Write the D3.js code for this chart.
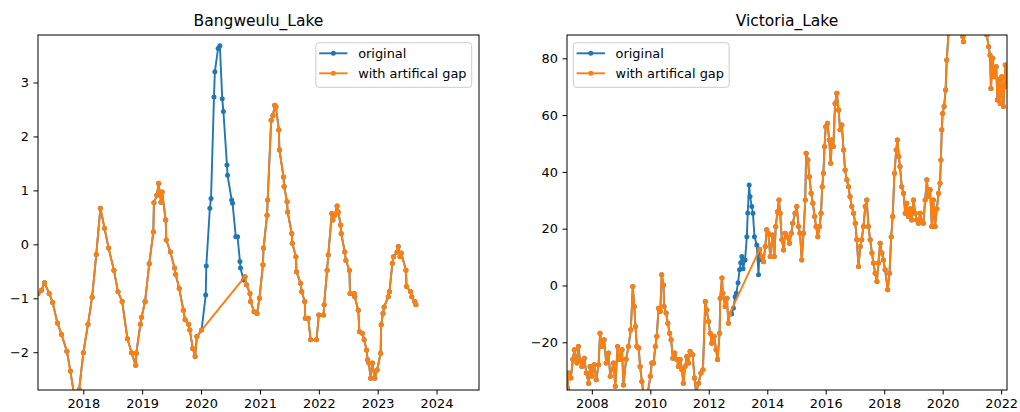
<!DOCTYPE html>
<html>
<head>
<meta charset="utf-8">
<script src="https://cdn.jsdelivr.net/npm/d3@7"></script>
<style>
  body { margin: 0; background: #fff; }
  svg { display: block; }
  text { font-family: "DejaVu Sans", sans-serif; fill: #000; }
</style>
</head>
<body>
<svg id="chart" width="1020" height="412"></svg>
<script>
// ---- data (decimal years, level anomaly) ----
const bangYears = [
  2017.23, 2017.29, 2017.34, 2017.42, 2017.48, 2017.56, 2017.63, 2017.72, 2017.78, 2017.86,
  2017.93, 2018.00, 2018.08, 2018.15, 2018.22, 2018.29, 2018.36, 2018.43, 2018.52, 2018.59,
  2018.66, 2018.75, 2018.82, 2018.89, 2018.90, 2018.97, 2018.99, 2019.05, 2019.12, 2019.19,
  2019.20, 2019.25, 2019.28, 2019.30, 2019.32, 2019.34, 2019.40, 2019.41, 2019.48, 2019.55,
  2019.57, 2019.63, 2019.70, 2019.73, 2019.79, 2019.81, 2019.86, 2019.90, 2019.93, 2020.01,
  2020.08, 2020.09, 2020.15, 2020.17, 2020.22, 2020.235, 2020.29, 2020.32, 2020.36, 2020.38,
  2020.44, 2020.45, 2020.52, 2020.535, 2020.59, 2020.62, 2020.66, 2020.67, 2020.72, 2020.745,
  2020.77, 2020.83, 2020.84, 2020.90, 2020.95, 2020.99, 2021.05, 2021.06, 2021.12, 2021.13,
  2021.19, 2021.22, 2021.25, 2021.27, 2021.32, 2021.33, 2021.40, 2021.41, 2021.46, 2021.47,
  2021.54, 2021.55, 2021.61, 2021.62, 2021.69, 2021.71, 2021.76, 2021.77, 2021.82, 2021.86,
  2021.96, 2022.00, 2022.08, 2022.09, 2022.14, 2022.16, 2022.22, 2022.24, 2022.27, 2022.31,
  2022.33, 2022.37, 2022.38, 2022.44, 2022.46, 2022.52, 2022.53, 2022.60, 2022.61, 2022.67,
  2022.69, 2022.74, 2022.77, 2022.81, 2022.83, 2022.85, 2022.88, 2022.91, 2022.95, 2022.99,
  2023.05, 2023.06, 2023.09, 2023.11, 2023.18, 2023.20, 2023.25, 2023.27, 2023.33, 2023.35,
  2023.38, 2023.40, 2023.48, 2023.49, 2023.56, 2023.58, 2023.63, 2023.65
];
const bangValues = [
  -0.91, -0.85, -0.71, -0.91, -1.08, -1.46, -1.67, -1.98, -2.35, -2.90,
  -2.69, -2.01, -1.48, -0.98, -0.19, 0.67, 0.30, -0.07, -0.48, -0.88,
  -1.06, -1.75, -2.01, -2.24, -2.02, -1.48, -1.35, -1.06, -0.36, 0.23,
  0.77, 0.91, 1.13, 0.95, 0.78, 0.97, 0.45, 0.08, -0.14, -0.44,
  -0.56, -0.82, -1.22, -1.40, -1.48, -1.59, -1.93, -2.08, -1.71, -1.59,
  -0.94, -0.40, 0.67, 0.85, 2.73, 3.20, 3.63, 3.68, 2.70, 2.46,
  1.47, 1.28, 0.82, 0.76, 0.14, 0.14, -0.32, -0.44, -0.66, -0.60,
  -0.75, -0.91, -1.06, -1.25, -1.28, -1.00, -0.38, -0.07, 0.54, 0.82,
  2.30, 2.39, 2.58, 2.55, 2.12, 1.75, 1.25, 1.07, 0.79, 0.60,
  0.20, 0.02, -0.23, -0.51, -0.72, -0.88, -1.06, -1.37, -1.37, -1.77,
  -1.77, -1.31, -1.31, -1.12, -0.48, -0.20, 0.57, 0.45, 0.54, 0.71,
  0.60, 0.36, 0.20, -0.14, -0.30, -0.48, -0.91, -0.91, -0.97, -1.22,
  -1.62, -1.65, -1.77, -1.96, -2.14, -2.20, -2.48, -2.20, -2.48, -2.33,
  -2.02, -1.49, -1.28, -1.16, -0.97, -0.88, -0.35, -0.23, -0.14, -0.04,
  -0.23, -0.16, -0.48, -0.78, -0.88, -0.97, -1.06, -1.12
];
const bangGap = [2020.03, 2020.73];
const bangXTicks = [2018, 2019, 2020, 2021, 2022, 2023, 2024];
const bangYTicks = [-2, -1, 0, 1, 2, 3];

const victYears = [
  2007.17, 2007.20, 2007.28, 2007.35, 2007.40, 2007.49, 2007.54, 2007.60, 2007.66, 2007.74,
  2007.81, 2007.89, 2007.94, 2008.00, 2008.08, 2008.15, 2008.23, 2008.28, 2008.34, 2008.42,
  2008.49, 2008.57, 2008.63, 2008.74, 2008.80, 2008.88, 2008.95, 2009.03, 2009.08, 2009.17,
  2009.25, 2009.33, 2009.40, 2009.45, 2009.49, 2009.54, 2009.60, 2009.65, 2009.71, 2009.77,
  2009.88, 2010.00, 2010.05, 2010.11, 2010.17, 2010.22, 2010.28, 2010.34, 2010.39, 2010.45,
  2010.47, 2010.54, 2010.60, 2010.66, 2010.71, 2010.77, 2010.83, 2010.91, 2010.96, 2011.02,
  2011.08, 2011.13, 2011.19, 2011.25, 2011.31, 2011.36, 2011.45, 2011.51, 2011.57, 2011.65,
  2011.73, 2011.80, 2011.88, 2011.93, 2011.99, 2012.05, 2012.10, 2012.18, 2012.25, 2012.30,
  2012.37, 2012.39, 2012.45, 2012.48, 2012.56, 2012.62, 2012.67, 2012.71,
  2012.78, 2012.84, 2012.90, 2012.94, 2013.00, 2013.05, 2013.09, 2013.13, 2013.17, 2013.24,
  2013.30, 2013.33, 2013.38, 2013.41, 2013.47, 2013.51, 2013.56, 2013.64, 2013.70, 2013.72,
  2013.74, 2013.81, 2013.87, 2013.93, 2013.98, 2014.04, 2014.10, 2014.18, 2014.24, 2014.29,
  2014.35, 2014.40, 2014.44, 2014.50, 2014.56, 2014.61, 2014.67, 2014.76, 2014.82, 2014.87,
  2014.95, 2015.01, 2015.07, 2015.12, 2015.18, 2015.24, 2015.30, 2015.33, 2015.39, 2015.44,
  2015.50, 2015.56, 2015.62, 2015.67, 2015.73, 2015.79, 2015.84, 2015.88, 2015.92, 2015.96,
  2016.00, 2016.06, 2016.12, 2016.17, 2016.21, 2016.26, 2016.32, 2016.38, 2016.44, 2016.49,
  2016.55, 2016.61, 2016.66, 2016.72, 2016.78, 2016.83, 2016.89, 2016.95, 2017.01, 2017.06,
  2017.12, 2017.18, 2017.23, 2017.29, 2017.35, 2017.40, 2017.46, 2017.52, 2017.58, 2017.63,
  2017.69, 2017.75, 2017.80, 2017.86, 2017.92, 2017.97, 2018.03, 2018.12, 2018.18, 2018.24,
  2018.29, 2018.35, 2018.41, 2018.45, 2018.50, 2018.54, 2018.60, 2018.66, 2018.72, 2018.77,
  2018.83, 2018.89, 2018.94, 2019.00, 2019.06, 2019.11, 2019.17, 2019.23, 2019.29, 2019.34,
  2019.40, 2019.46, 2019.51, 2019.57, 2019.63, 2019.68, 2019.74, 2019.80, 2019.86, 2019.91,
  2019.94, 2019.97, 2020.00, 2020.05, 2020.10, 2020.14, 2020.20, 2020.28, 2020.36, 2020.45,
  2020.55, 2020.64, 2020.69, 2020.71, 2020.80, 2020.95, 2021.10, 2021.25, 2021.40, 2021.51,
  2021.57, 2021.62, 2021.65, 2021.71, 2021.76, 2021.83, 2021.87, 2021.92, 2021.97, 2022.02,
  2022.08, 2022.14, 2022.19
];
const victValues = [
  -36.1, -30.8, -32.6, -26.0, -22.6, -27.3, -21.5, -26.7, -28.5, -25.6,
  -30.8, -34.4, -28.5, -32.0, -27.9, -33.2, -27.9, -16.8, -21.5, -19.1,
  -27.3, -23.8, -32.0, -27.3, -35.5, -21.5, -26.1, -22.6, -35.0, -26.0,
  -21.5, -15.6, -0.4, -7.4, -14.4, -21.5, -22.0, -28.5, -33.8, -38.5,
  -40.0, -32.0, -27.3, -27.3, -21.5, -17.9, -8.0, -9.1, 3.8, 0.2,
  -7.4, -9.7, -13.3, -16.8, -19.1, -25.6, -23.8, -26.1, -28.5, -26.1,
  -29.7, -34.4, -28.5, -25.0, -27.3, -23.2, -24.4, -32.6, -38.0, -34.4,
  -30.8, -29.7, -5.6, -8.6, -12.7, -16.8, -20.3, -17.9, -22.6, -26.1,
  -16.8, -4.5, 2.6, -2.7, -7.4, -4.5, -13.3, -10.0,
  -10.0, -7.9, -4.0, -2.7, 1.0, 5.5, 8.0, 10.2, 5.9, 9.0,
  17.2, 25.5, 35.4, 31.3, 27.8, 25.4, 17.2, 14.3, 3.8, 9.0,
  12.8, 10.2, 8.4, 13.7, 19.6, 18.4, 10.2, 17.8, 10.2, 20.8,
  26.0, 30.1, 25.4, 16.1, 12.5, 18.4, 17.2, 14.9, 18.4, 21.9,
  25.4, 27.8, 20.8, 18.4, 9.0, 18.4, 30.1, 46.6, 44.2, 38.3,
  32.5, 29.0, 24.3, 20.8, 17.2, 20.8, 25.4, 34.8, 39.5, 48.9,
  55.9, 57.1, 51.2, 43.0, 51.2, 48.9, 64.1, 67.7, 61.8, 54.8,
  56.5, 47.7, 40.7, 37.2, 34.8, 31.3, 27.8, 25.4, 21.9, 16.1,
  6.7, 13.7, 16.1, 20.8, 27.8, 30.1, 20.8, 16.1, 11.4, 7.9,
  4.3, 1.4, 7.9, 14.9, 11.4, 9.0, 5.5, -1.5, 4.3, 17.2,
  24.3, 39.5, 47.7, 51.2, 45.4, 41.9, 34.8, 32.5, 25.4, 29.0,
  24.3, 27.0, 23.1, 30.1, 25.4, 23.1, 21.9, 25.4, 22.5, 21.9,
  30.1, 37.2, 31.3, 33.7, 20.8, 30.1, 20.8, 27.0, 32.5, 36.0,
  44.2, 54.8, 60.6, 63.0, 68.8, 79.4, 88.8, 96.0, 101.0, 98.0,
  93.0, 89.0, 87.6, 85.8, 92.0, 99.0, 103.0, 97.0, 92.0, 88.2,
  84.1, 81.1, 69.4, 80.0, 73.5, 77.0, 65.3, 72.4, 64.1, 73.5,
  63.0, 77.6, 70.0
];
const victGap = [2012.73, 2013.73];
const victXTicks = [2008, 2010, 2012, 2014, 2016, 2018, 2020, 2022];
const victYTicks = [-20, 0, 20, 40, 60, 80];

const seriesNames = ['original', 'with artifical gap'];
const seriesColors = ['#1f77b4', '#ff7f0e'];

// ---- helpers ----
function yearToDate(y) {
  const yr = Math.floor(y);
  const a = Date.UTC(yr, 0, 1), b = Date.UTC(yr + 1, 0, 1);
  return new Date(a + (y - yr) * (b - a));
}

const svg = d3.select('#chart');
const defs = svg.append('defs');
const FONT = 12.9;

function drawPanel(cfg) {
  const x = d3.scaleUtc().domain(cfg.xLim.map(yearToDate)).range([cfg.x0, cfg.x1]);
  const y = d3.scaleLinear().domain(cfg.yLim).range([cfg.y1, cfg.y0]);

  const pts = cfg.years.map((t, i) => ({ t, date: yearToDate(t), v: cfg.values[i] }));
  const gapPts = pts.filter(d => d.t < cfg.gap[0] || d.t > cfg.gap[1]);

  const clipId = 'clip-' + cfg.key;
  defs.append('clipPath').attr('id', clipId)
    .append('rect')
    .attr('x', cfg.x0).attr('y', cfg.y0)
    .attr('width', cfg.x1 - cfg.x0).attr('height', cfg.y1 - cfg.y0);

  const g = svg.append('g');
  const line = d3.line().x(d => x(d.date)).y(d => y(d.v));

  // both series: line then markers, blue first
  [pts, gapPts].forEach((data, i) => {
    const s = g.append('g').attr('clip-path', `url(#${clipId})`);
    s.append('path')
      .datum(data)
      .attr('d', line)
      .attr('fill', 'none')
      .attr('stroke', seriesColors[i])
      .attr('stroke-width', 1.9)
      .attr('stroke-linejoin', 'round');
    s.selectAll('circle')
      .data(data)
      .join('circle')
      .attr('cx', d => x(d.date))
      .attr('cy', d => y(d.v))
      .attr('r', 2.5)
      .attr('fill', seriesColors[i]);
  });

  // axes
  const xAxis = d3.axisBottom(x)
    .tickValues(cfg.xTicks.map(yearToDate))
    .tickFormat(d3.utcFormat('%Y'))
    .tickSize(4.5).tickPadding(4.5).tickSizeOuter(0);
  const yAxis = d3.axisLeft(y)
    .tickValues(cfg.yTicks)
    .tickFormat(d3.format('d'))
    .tickSize(4.5).tickPadding(4.5).tickSizeOuter(0);

  g.append('g')
    .attr('transform', `translate(0,${cfg.y1})`)
    .call(xAxis)
    .call(a => a.select('.domain').remove())
    .attr('font-size', FONT).attr('font-family', '"DejaVu Sans", sans-serif');
  g.append('g')
    .attr('transform', `translate(${cfg.x0},0)`)
    .call(yAxis)
    .call(a => a.select('.domain').remove())
    .attr('font-size', FONT).attr('font-family', '"DejaVu Sans", sans-serif');
  g.selectAll('.tick line').attr('stroke', '#000').attr('stroke-width', 1);
  g.selectAll('.tick text').attr('fill', '#000');

  // frame
  g.append('rect')
    .attr('x', cfg.x0).attr('y', cfg.y0)
    .attr('width', cfg.x1 - cfg.x0).attr('height', cfg.y1 - cfg.y0)
    .attr('fill', 'none').attr('stroke', '#000').attr('stroke-width', 1);

  // title
  g.append('text')
    .attr('x', (cfg.x0 + cfg.x1) / 2).attr('y', 26)
    .attr('text-anchor', 'middle')
    .attr('font-size', 15.5)
    .text(cfg.title);

  // legend
  const lg = g.append('g');
  const box = lg.append('rect')
    .attr('rx', 3).attr('ry', 3)
    .attr('fill', '#fff').attr('fill-opacity', 0.8)
    .attr('stroke', '#ccc').attr('stroke-width', 1);
  let maxW = 0;
  seriesNames.forEach((name, i) => {
    const ry = 10.6 + i * 20;
    lg.append('line')
      .attr('x1', 3.3).attr('x2', 31.6).attr('y1', ry).attr('y2', ry)
      .attr('stroke', seriesColors[i]).attr('stroke-width', 1.9);
    lg.append('circle')
      .attr('cx', 17.5).attr('cy', ry).attr('r', 2.5)
      .attr('fill', seriesColors[i]);
    const t = lg.append('text')
      .attr('x', 42.3).attr('y', ry)
      .attr('dy', '0.35em')
      .attr('font-size', FONT)
      .text(name);
    maxW = Math.max(maxW, t.node().getComputedTextLength());
  });
  const w = 42.3 + maxW + 5.2;
  box.attr('width', w).attr('height', 44.6);
  const lx = cfg.legendSide === 'right' ? cfg.x1 - 7.3 - w : cfg.x0 + 6.3;
  lg.attr('transform', `translate(${lx},${cfg.y0 + 7.7})`);
}

drawPanel({
  key: 'bang', title: 'Bangweulu_Lake',
  x0: 38, x1: 479, y0: 35, y1: 390,
  xLim: [2017.23, 2024.72], yLim: [-2.70, 3.88],
  years: bangYears, values: bangValues, gap: bangGap,
  xTicks: bangXTicks, yTicks: bangYTicks, legendSide: 'right'
});

drawPanel({
  key: 'vict', title: 'Victoria_Lake',
  x0: 567, x1: 1007, y0: 35, y1: 390,
  xLim: [2007.15, 2022.2], yLim: [-36.8, 88.2],
  years: victYears, values: victValues, gap: victGap,
  xTicks: victXTicks, yTicks: victYTicks, legendSide: 'left'
});
</script>
</body>
</html>
